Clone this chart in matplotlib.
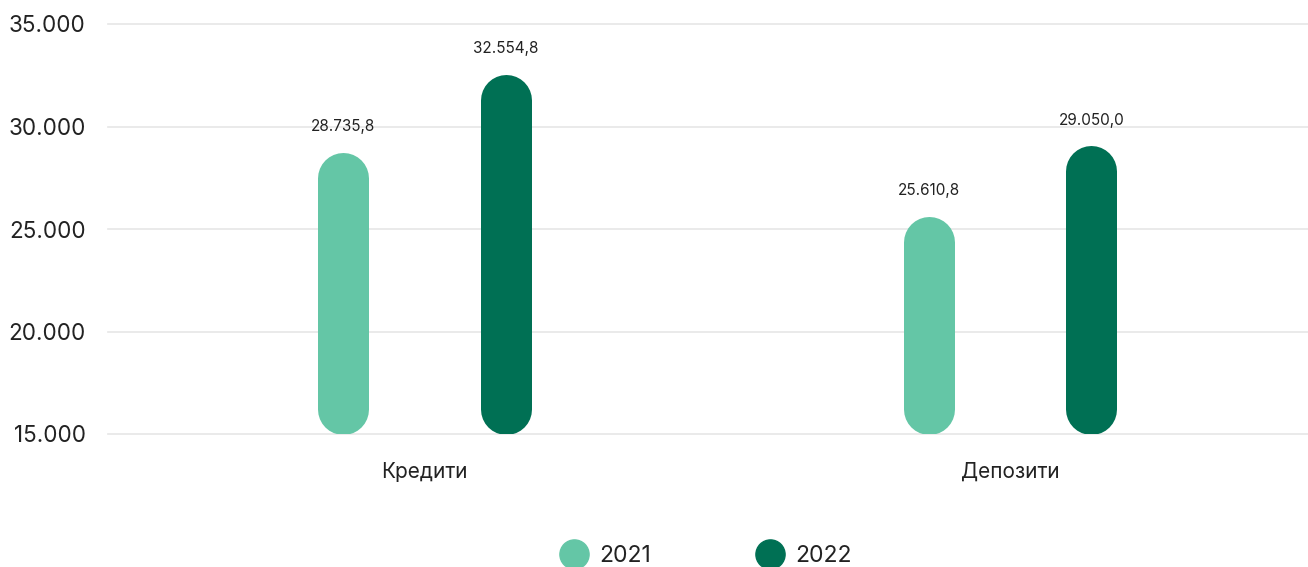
import matplotlib
matplotlib.use("Agg")
import matplotlib.pyplot as plt
from matplotlib.lines import Line2D

categories = ["Кредити", "Депозити"]
series_names = ["2021", "2022"]
values_2021 = [28735.8, 25610.8]
values_2022 = [32554.8, 29050.0]
value_labels_2021 = ["28.735,8", "25.610,8"]
value_labels_2022 = ["32.554,8", "29.050,0"]
yticks = [15000, 20000, 25000, 30000, 35000]
ytick_labels = ["15.000", "20.000", "25.000", "30.000", "35.000"]

colors = ["#64c6a6", "#007054"]
plt.rcParams['font.family'] = ['Inter', 'DejaVu Sans']

W, H, DPI = 1308, 567, 100
fig = plt.figure(figsize=(W / DPI, H / DPI), dpi=DPI)
ax_left, ax_right = 108 / W, 1308 / W
ax_bottom, ax_top = 1 - 434 / H, 1 - 24 / H
ax = fig.add_axes([ax_left, ax_bottom, ax_right - ax_left, ax_top - ax_bottom])
ymin, ymax = 15000, 35000
ax.set_ylim(ymin, ymax)
ax.set_xlim(-0.541, 1.509)
for s in ax.spines.values():
    s.set_visible(False)
ax.set_xticks([])
ax.set_yticks(yticks)
ax.set_yticklabels(ytick_labels, fontsize=16.2, color="#222222")
ax.tick_params(axis='y', length=0, pad=16)
for t in yticks:
    ax.axhline(t, color="#e6e6e6", lw=1.2, zorder=0, clip_on=False)

px_per_unit = (ax_top - ax_bottom) * H / (ymax - ymin)
bar_px = 51
r = (bar_px / 2) / px_per_unit
lw_pt = bar_px * 72 / DPI
offset = 0.139

for vals, labels, col, sign in [(values_2021, value_labels_2021, colors[0], -1),
                                (values_2022, value_labels_2022, colors[1], 1)]:
    for i, (v, lab) in enumerate(zip(vals, labels)):
        x = i + sign * offset
        ax.plot([x, x], [ymin + r, v - r], color=col, lw=lw_pt,
                solid_capstyle='round', zorder=2)
        ax.annotate(lab, (x, v), xytext=(0, 13), textcoords='offset points',
                    ha='center', va='bottom', fontsize=11, color="#222222")

for i, c in enumerate(categories):
    ax.annotate(c, (i, ymin), xytext=(0, -27), textcoords='offset points',
                ha='center', va='center', fontsize=15, color="#222222",
                annotation_clip=False)

handles = [Line2D([], [], marker='o', ls='none', markersize=21, color=c) for c in colors]
fig.legend(handles, series_names, loc='center', bbox_to_anchor=(0.5365, 1 - 556 / H),
           ncol=2, frameon=False, fontsize=16.5, handletextpad=0.1, columnspacing=4.2,
           labelcolor="#222222")

fig.savefig("out.png", dpi=DPI)
